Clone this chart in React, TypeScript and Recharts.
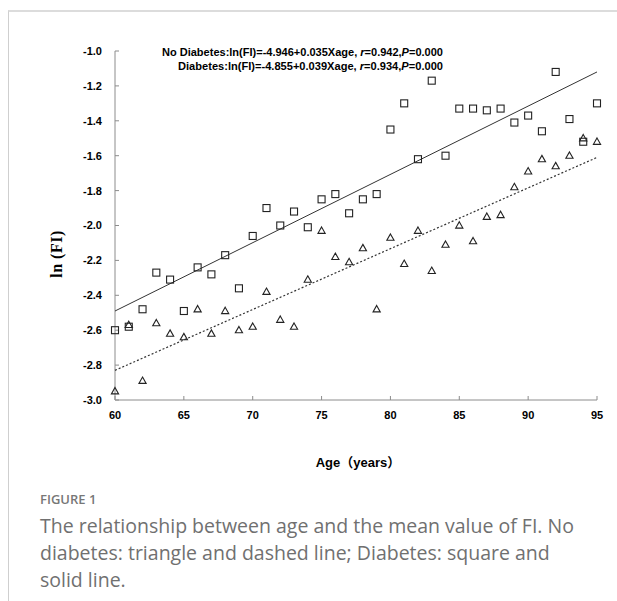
import { ScatterChart, Scatter, XAxis, YAxis } from "recharts";

const ages = [60, 61, 62, 63, 64, 65, 66, 67, 68, 69, 70, 71, 72, 73, 74, 75, 76, 77, 78, 79, 80, 81, 82, 83, 84, 85, 86, 87, 88, 89, 90, 91, 92, 93, 94, 95];

// squares
const diabetesFI = [-2.6, -2.58, -2.48, -2.27, -2.31, -2.49, -2.24, -2.28, -2.17, -2.36, -2.06, -1.9, -2.0, -1.92, -2.01, -1.85, -1.82, -1.93, -1.85, -1.82, -1.45, -1.3, -1.62, -1.17, -1.6, -1.33, -1.33, -1.34, -1.33, -1.41, -1.37, -1.46, -1.12, -1.39, -1.52, -1.3];

// triangles
const noDiabetesFI = [-2.95, -2.57, -2.89, -2.56, -2.62, -2.64, -2.48, -2.62, -2.49, -2.6, -2.58, -2.38, -2.54, -2.58, -2.31, -2.03, -2.18, -2.21, -2.13, -2.48, -2.07, -2.22, -2.03, -2.26, -2.11, -2.0, -2.09, -1.95, -1.94, -1.78, -1.69, -1.62, -1.66, -1.6, -1.5, -1.52];

// fitted lines, end points
const fitAges = [60, 95];
const diabetesFit = [-2.49, -1.12];
const noDiabetesFit = [-2.83, -1.61];

const xTicks = [60, 65, 70, 75, 80, 85, 90, 95];
const yTicks = [-1.0, -1.2, -1.4, -1.6, -1.8, -2.0, -2.2, -2.4, -2.6, -2.8, -3.0];

const toPoints = (xs: number[], ys: number[]) => xs.map((x, i) => ({ age: x, fi: ys[i] }));

const diabetesData = toPoints(ages, diabetesFI);
const noDiabetesData = toPoints(ages, noDiabetesFI);
const diabetesLine = toPoints(fitAges, diabetesFit);
const noDiabetesLine = toPoints(fitAges, noDiabetesFit);

const Square = (props: any) => {
  const { cx, cy } = props;
  if (cx == null || cy == null) return <g />;
  return <rect x={cx - 3.5} y={cy - 3.5} width={7} height={7} fill="none" stroke="#222" strokeWidth={1.1} />;
};

const Triangle = (props: any) => {
  const { cx, cy } = props;
  if (cx == null || cy == null) return <g />;
  const d = `M${cx},${cy - 3.8} L${cx + 3.6},${cy + 2.6} L${cx - 3.6},${cy + 2.6} Z`;
  return <path d={d} fill="none" stroke="#222" strokeWidth={1.1} />;
};

const NoShape = () => <g />;

const tickStyle = { fontFamily: "Liberation Sans, Arial, sans-serif", fontSize: 11, fontWeight: 700, fill: "#000" };

export default function App() {
  return (
    <div style={{ position: "absolute", left: 0, top: 0, width: 617, height: 601, background: "#fff", overflow: "hidden" }}>
      <div style={{ position: "absolute", left: 8, top: 10, width: 609, height: 600, borderTop: "2px solid #dcdcdc", borderLeft: "1px solid #cfcfcf" }} />

      <div style={{ position: "absolute", left: 0, top: 0 }}>
        <ScatterChart width={617} height={440} margin={{ top: 51, right: 20, left: 55, bottom: 10 }}>
          <XAxis
            type="number"
            dataKey="age"
            domain={[60, 95]}
            ticks={xTicks}
            interval={0}
            height={30}
            tickSize={-4}
            tickMargin={15}
            tick={tickStyle}
            axisLine={{ stroke: "#8c8c8c" }}
            tickLine={{ stroke: "#8c8c8c" }}
          />
          <YAxis
            type="number"
            dataKey="fi"
            domain={[-3, -1]}
            ticks={yTicks}
            interval={0}
            width={60}
            tickSize={-4}
            tickMargin={17}
            tick={tickStyle}
            tickFormatter={(v: number) => v.toFixed(1)}
            axisLine={{ stroke: "#8c8c8c" }}
            tickLine={{ stroke: "#8c8c8c" }}
          />
          <Scatter data={diabetesLine} line={{ stroke: "#333", strokeWidth: 1 }} shape={NoShape} isAnimationActive={false} />
          <Scatter data={noDiabetesLine} line={{ stroke: "#333", strokeWidth: 1.2, strokeDasharray: "2 2" }} shape={NoShape} isAnimationActive={false} />
          <Scatter data={noDiabetesData} shape={Triangle} isAnimationActive={false} />
          <Scatter data={diabetesData} shape={Square} isAnimationActive={false} />
        </ScatterChart>
      </div>

      <svg style={{ position: "absolute", left: 0, top: 0 }} width={617} height={80}>
        <g fontFamily="Liberation Sans, Arial, sans-serif" fontWeight={700} fontSize={10.5} fill="#000">
          <text x={443} y={56} textAnchor="end" textLength={281} lengthAdjust="spacingAndGlyphs">
            No Diabetes:ln(FI)=-4.946+0.035Xage, <tspan fontStyle="italic">r</tspan>=0.942,<tspan fontStyle="italic">P</tspan>=0.000
          </text>
          <text x={443} y={70} textAnchor="end" textLength={265} lengthAdjust="spacingAndGlyphs">
            Diabetes:ln(FI)=-4.855+0.039Xage, <tspan fontStyle="italic">r</tspan>=0.934,<tspan fontStyle="italic">P</tspan>=0.000
          </text>
        </g>
      </svg>

      <div
        style={{
          position: "absolute",
          left: 57,
          top: 254,
          transform: "translate(-50%, -50%) rotate(-90deg)",
          fontFamily: "Liberation Serif, serif",
          fontWeight: 700,
          fontSize: 16,
          letterSpacing: 0.5,
          whiteSpace: "nowrap",
          color: "#000",
        }}
      >
        ln (FI)
      </div>

      <div
        style={{
          position: "absolute",
          left: 358,
          top: 461,
          transform: "translate(-50%, -50%)",
          fontFamily: "Liberation Sans, 'Noto Sans CJK SC', sans-serif",
          fontWeight: 700,
          fontSize: 13,
          whiteSpace: "nowrap",
          color: "#000",
        }}
      >
        Age（years）
      </div>

      <div style={{ position: "absolute", left: 40, top: 490, fontFamily: "'Open Sans', sans-serif", fontWeight: 600, fontSize: 13, color: "#777", lineHeight: "18px" }}>
        FIGURE 1
      </div>
      <div style={{ position: "absolute", left: 40, top: 512, fontFamily: "'Open Sans', sans-serif", fontSize: 19.5, color: "#707070", lineHeight: "27px", whiteSpace: "nowrap" }}>
        The relationship between age and the mean value of FI. No
        <br />
        diabetes: triangle and dashed line; Diabetes: square and
        <br />
        solid line.
      </div>
    </div>
  );
}
